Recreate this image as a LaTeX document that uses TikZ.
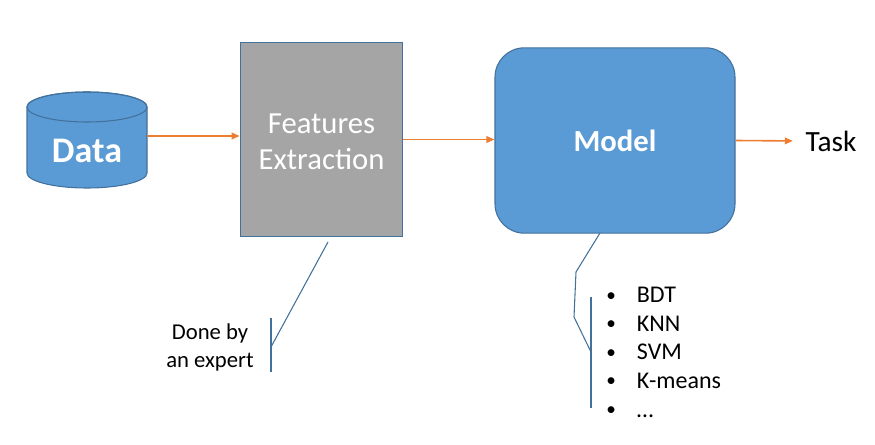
\documentclass[tikz,border=0pt]{standalone}
\usepackage{fontspec}
\setmainfont{Carlito}
\usetikzlibrary{arrows.meta}
\definecolor{boxblue}{HTML}{5B9BD5}
\definecolor{edgeblue}{HTML}{41719C}
\definecolor{floworange}{HTML}{ED7D31}
\definecolor{featgray}{HTML}{A5A5A5}
\begin{document}
\begin{tikzpicture}[x=0.75pt,y=-0.75pt,
    flow/.style={draw=floworange,line width=1.2pt,-{Triangle[length=6pt,width=5pt]}},
    note/.style={draw=edgeblue,line width=0.8pt},
    bigtext/.style={text=white,font=\fontsize{23}{27}\selectfont,align=center}]
    \useasboundingbox (0,0) rectangle (875,445);
    % Data store
    \path[fill=boxblue,draw=edgeblue,line width=0.8pt] (27,107) -- (27,173)
        arc[start angle=180,end angle=0,x radius=60,y radius=15] -- (147,107)
        arc[start angle=0,end angle=-180,x radius=60,y radius=15] -- cycle;
    \draw[edgeblue,line width=0.8pt] (87,107) ellipse [x radius=60,y radius=15];
    % Nodes
    \node[text=white,font=\fontsize{27}{32}\selectfont\bfseries] (data) at (87,151) {Data};
    \coordinate (dataR) at (147,136);
    \node[rectangle,fill=featgray,draw=edgeblue,line width=0.8pt,minimum width=122pt,minimum height=146pt,bigtext] (feat) at (321.5,139.5) {};
    \node[bigtext] (featText) at (321.5,142) {Features\\Extraction};
    \node[rectangle,rounded corners=22pt,fill=boxblue,draw=edgeblue,line width=0.8pt,minimum width=180pt,minimum height=139pt,bigtext,font=\fontsize{23}{27}\selectfont\bfseries] (model) at (615,140.5) {Model};
    \node[font=\fontsize{22}{26}\selectfont] (task) at (831,141) {Task};
    \node[align=center,font=\fontsize{17}{21}\selectfont] (expert) at (210,347) {Done by\\an expert};
    \foreach \name [count=\i] in {BDT,KNN,SVM,K-means,\dots}
        \node[anchor=base west,inner sep=0pt,font=\fontsize{18}{21}\selectfont] (item\i) at (606,303+28.5*\i-28.5) {\makebox[23pt][l]{\raisebox{0.08em}{\scalebox{0.8}{\textbullet}}}\name};
    % Callout points
    \coordinate (featTip) at (328,242);
    \coordinate (featEnd) at (271,347);
    \coordinate (featTop) at (271,318);
    \coordinate (featBot) at (271,372);
    \coordinate (modelTip) at (600,233);
    \coordinate (modelA) at (576,272);
    \coordinate (modelB) at (574,317);
    \coordinate (modelEnd) at (591,352);
    \coordinate (modelTop) at (591,297);
    \coordinate (modelBot) at (591,408);
    % Edges
    \draw[flow] (dataR) -- (dataR -| feat.west);
    \draw[flow] (feat.east) -- (feat.east -| model.west);
    \draw[flow,shorten >=6pt] (model.east) -- (task.west);
    \draw[note] (featTip) -- (featEnd);
    \draw[note] (featTop) -- (featBot);
    \draw[note] (modelTip) -- (modelA) -- (modelB) -- (modelEnd);
    \draw[note] (modelTop) -- (modelBot);
\end{tikzpicture}
\end{document}
